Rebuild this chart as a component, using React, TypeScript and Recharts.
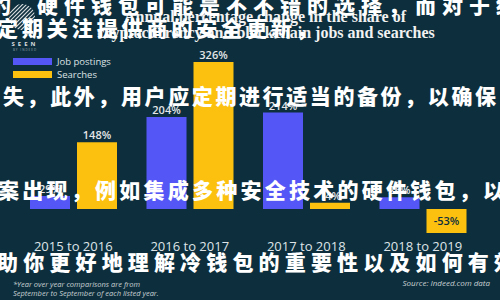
import React from "react";
import { BarChart, Bar, XAxis, YAxis, LabelList } from "recharts";

const periods = ["2015 to 2016", "2016 to 2017", "2017 to 2018", "2018 to 2019"];
const jobPostings = [29, 204, 214, 26];
const searches = [148, 326, 14, -53];

const BG = "#0d2f3d";
const BLUE = "#5457f5";
const YELLOW = "#fcc10f";
const SANS = "'Open Sans', 'Noto Sans', sans-serif";
const CJK = "'Noto Sans CJK SC', sans-serif";

const chartData = periods.map((period, i) => ({
  period,
  jobs: jobPostings[i],
  searches: searches[i],
}));

// value labels sit above positive bars and inside negative ones
const renderValueLabel = (props: any) => {
  const x = Number(props.x);
  const y = Number(props.y);
  const width = Number(props.width);
  const height = Number(props.height);
  const value = Number(props.value);
  const top = Math.min(y, y + height);
  const h = Math.abs(height);
  const cx = x + width / 2;
  if (value < 0) {
    return (
      <text x={cx} y={top + h / 2} dy="0.35em" textAnchor="middle" fill={BG}
        fontSize={11} fontWeight={600} fontFamily={SANS}>
        {value}%
      </text>
    );
  }
  return (
    <text x={cx} y={top - 3} textAnchor="middle" fill="#e4e6e8"
      fontSize={11} fontWeight={600} fontFamily={SANS}>
      {value}%
    </text>
  );
};

function Header() {
  return (
    <svg width={500} height={300} style={{ position: "absolute", left: 0, top: 0 }}>
      <defs>
        <clipPath id="logoClip">
          <circle cx={22} cy={17} r={13} />
        </clipPath>
      </defs>
      <g clipPath="url(#logoClip)" stroke="#d8dcdf" strokeWidth={1.2}>
        {[-20, -16, -12, -8, -4, 0, 4, 8, 12, 16, 20].map((d) => (
          <line key={d} x1={22 - 20 + d} y1={17 + 20} x2={22 + 20 + d} y2={17 - 20} />
        ))}
      </g>
      <text x={25} y={46} textAnchor="middle" fill="#d8dcdf" fontSize={6}
        fontWeight={700} letterSpacing={3} fontFamily={SANS}>SEEN</text>
      <text x={25} y={51} textAnchor="middle" fill="#9aa6ad" fontSize={3}
        letterSpacing={1} fontFamily={SANS}>BY INDEED</text>

      <text x={265} y={22} textAnchor="middle" fill="#f2f2f2" fontSize={16}
        fontWeight={700} fontFamily="'Liberation Serif', serif">
        Annual percentage change in the share of
      </text>
      <text x={266} y={38} textAnchor="middle" fill="#f2f2f2" fontSize={16}
        fontWeight={700} fontFamily="'Liberation Serif', serif">
        cryptocurrency and blockchain jobs and searches
      </text>

      <rect x={13} y={58} width={39} height={7} fill={BLUE} />
      <text x={57} y={64.5} fill="#dde1e4" fontSize={9.5} fontFamily={SANS}>Job postings</text>
      <rect x={13} y={71} width={39} height={7} fill={YELLOW} />
      <text x={57} y={77.5} fill="#dde1e4" fontSize={9.5} fontFamily={SANS}>Searches</text>

      <text x={13} y={287} fill="#c9cfd3" fontSize={7.5} fontStyle="italic" fontFamily={SANS}>
        *Year over year comparisons are from
      </text>
      <text x={13} y={296} fill="#c9cfd3" fontSize={7.5} fontStyle="italic" fontFamily={SANS}>
        September to September of each listed year.
      </text>
      <text x={490} y={286} textAnchor="end" fill="#c9cfd3" fontSize={8} fontStyle="italic" fontFamily={SANS}>
        Source: Indeed.com data
      </text>
    </svg>
  );
}

// brush-style Chinese lines laid over the whole graphic
function Overlay() {
  const common = {
    fill: "#ffffff",
    fontSize: 21,
    fontWeight: 900,
    fontFamily: CJK,
    lengthAdjust: "spacing" as const,
  };
  return (
    <svg width={500} height={300} style={{ position: "absolute", left: 0, top: 0, pointerEvents: "none" }}>
      <text x={-10} y={13} {...common}>的</text>
      <text x={37} y={13} textLength={507} {...common}>硬件钱包可能是不不错的选择，而对于经验</text>
      <text x={-3} y={36} textLength={320} {...common}>定期关注提供商的安全更新，</text>
      <text x={3} y={104} textLength={493} {...common}>失，此外，用户应定期进行适当的备份，以确保</text>
      <text x={-2} y={198} textLength={506} {...common}>案出现，例如集成多种安全技术的硬件钱包，以</text>
      <text x={-3} y={270} textLength={518} {...common}>助你更好地理解冷钱包的重要性以及如何有效</text>
    </svg>
  );
}

export default function App() {
  return (
    <div style={{ position: "fixed", left: 0, top: 0, width: 500, height: 300, background: BG, overflow: "hidden" }}>
      <Header />
      <div style={{ position: "absolute", left: 0, top: 0 }}>
        <BarChart
          width={500}
          height={300}
          data={chartData}
          margin={{ top: 62, right: 19, bottom: 37, left: 15 }}
          barSize={40}
          barGap={7}
        >
          <XAxis
            dataKey="period"
            axisLine={false}
            tickLine={false}
            tickMargin={3}
            height={30}
            interval={0}
            tick={{ fill: "#dfe4e8", fontSize: 13, fontFamily: SANS }}
          />
          <YAxis hide domain={[-53, 326]} allowDataOverflow />
          <Bar dataKey="jobs" fill={BLUE} isAnimationActive={false}>
            <LabelList dataKey="jobs" content={renderValueLabel} />
          </Bar>
          <Bar dataKey="searches" fill={YELLOW} isAnimationActive={false}>
            <LabelList dataKey="searches" content={renderValueLabel} />
          </Bar>
        </BarChart>
      </div>
      <Overlay />
    </div>
  );
}
